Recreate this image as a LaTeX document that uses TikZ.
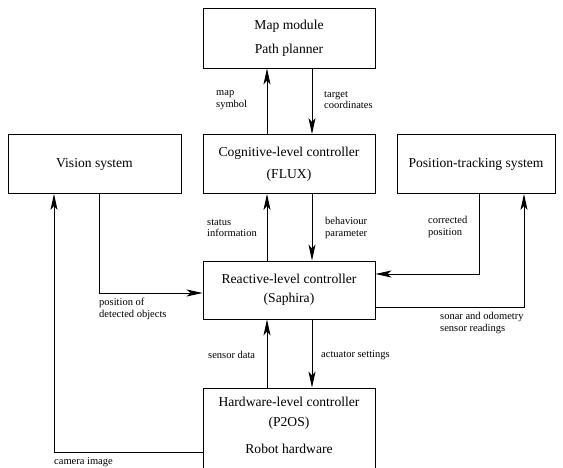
\documentclass[tikz,border=0pt]{standalone}
\usepackage{fontspec}
\setmainfont{Liberation Serif}
\usepackage{tikz}
\usetikzlibrary{arrows.meta}
\usetikzlibrary{positioning}

\begin{document}
\begin{tikzpicture}[x=1pt,y=1pt,
	block/.style={rectangle,draw,line width=0.9pt,align=center,font=\fontsize{13.6}{16}\selectfont},
	flow/.style={line width=0.9pt,-{Stealth[length=16pt,width=7pt,inset=4pt]}},
	lbl/.style={align=left,anchor=west,inner sep=0pt,font=\fontsize{10.5}{11.5}\selectfont}]
\useasboundingbox (0,0) rectangle (563,-468);
\node [block,minimum width=172pt,minimum height=60pt] (map) at (289,-38) {Map module\\[8pt]Path planner};
\node [block,minimum width=172pt,minimum height=59pt] (cog) at (289,-164) {Cognitive-level controller\\[6pt](FLUX)};
\node [block,minimum width=173pt,minimum height=59pt] (vision) at (94.5,-164) {Vision system};
\node [block,minimum width=158pt,minimum height=59pt] (pos) at (476,-164) {Position-tracking system};
\node [block,minimum width=172pt,minimum height=58pt] (react) at (289,-290) {Reactive-level controller\\[3pt](Saphira)};
\node [block,minimum width=172pt,minimum height=84pt] (hw) at (289,-430) {};
\node [block,draw=none,below=6pt of hw.north] (hwtext) {Hardware-level controller\\[4pt](P2OS)\\[11pt]Robot hardware};

% map <-> cognitive
\draw [flow] ([xshift=-22pt]cog.north) -- ([xshift=-22pt]map.south);
\draw [flow] ([xshift=23pt]map.south) -- ([xshift=23pt]cog.north);
\node [lbl] (mapsym) at (216,-100) {map\\symbol};
\node [lbl] (target) at (324,-100) {target\\coordinates};

% cognitive <-> reactive
\draw [flow] ([xshift=-22pt]react.north) -- ([xshift=-22pt]cog.south);
\draw [flow] ([xshift=23pt]cog.south) -- ([xshift=23pt]react.north);
\node [lbl] (status) at (207,-228) {status\\information};
\node [lbl] (behav) at (325,-228) {behaviour\\parameter};

% side systems
\draw [flow] ([xshift=4.5pt]vision.south) |- ([yshift=-3pt]react.west);
\node [lbl] (detect) at (99,-309) {position of\\detected objects};
\draw [flow] ([xshift=3pt]pos.south) |- ([yshift=16pt]react.east);
\node [lbl] (correct) at (428,-227) {corrected\\position};
\draw [flow] ([yshift=-17pt]react.east) -| ([xshift=48pt]pos.south);
\node [lbl] (sonar) at (440,-323) {sonar and odometry\\sensor readings};

% reactive <-> hardware
\draw [flow] ([xshift=-22pt]hw.north) -- ([xshift=-22pt]react.south);
\draw [flow] ([xshift=23pt]react.south) -- ([xshift=23pt]hw.north);
\node [lbl] (sensdata) at (208,-355) {sensor data};
\node [lbl] (actuator) at (321,-355) {actuator settings};

\draw [flow] ([yshift=-22pt]hw.west) -| ([xshift=-40.5pt]vision.south);
\node [lbl] (camera) at (54,-462) {camera image};
\end{tikzpicture}
\end{document}
